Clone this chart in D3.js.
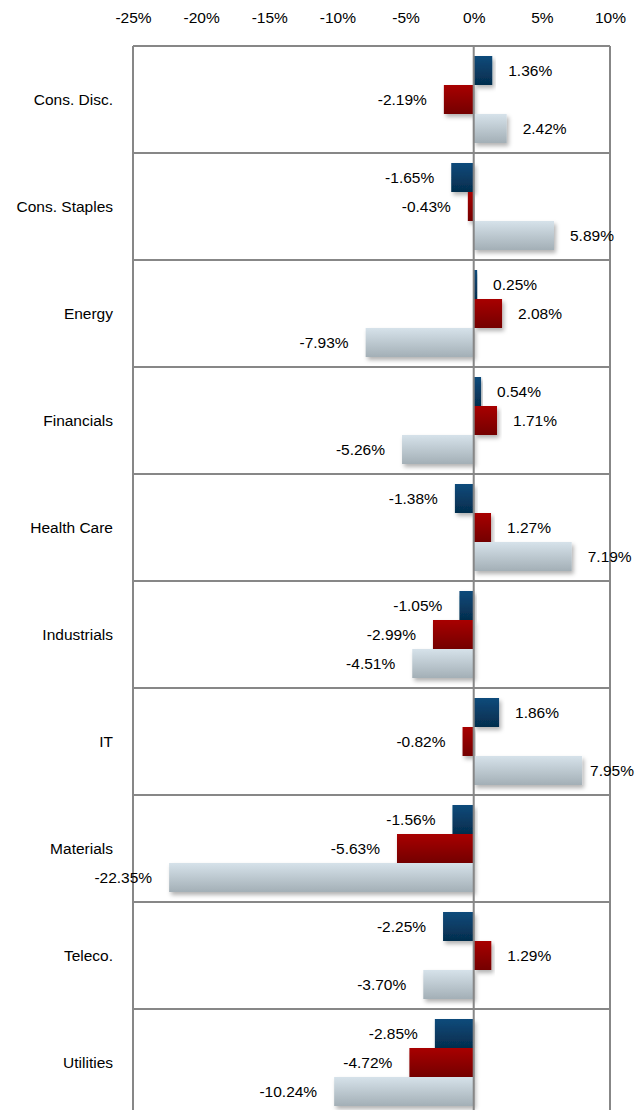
<!DOCTYPE html>
<html><head><meta charset="utf-8">
<script src="https://cdn.jsdelivr.net/npm/d3@7"></script>
<style>
html,body{margin:0;padding:0;background:#fff;}
svg{display:block;font-family:"Liberation Sans",Arial,sans-serif;}
</style></head>
<body><svg id="c" width="644" height="1110"></svg>
<script>
const categories = ["Cons. Disc.","Cons. Staples","Energy","Financials","Health Care","Industrials","IT","Materials","Teleco.","Utilities"];
const seriesNames = ["s1","s2","s3"];
const series1 = [1.36,-1.65,0.25,0.54,-1.38,-1.05,1.86,-1.56,-2.25,-2.85];
const series2 = [-2.19,-0.43,2.08,1.71,1.27,-2.99,-0.82,-5.63,1.29,-4.72];
const series3 = [2.42,5.89,-7.93,-5.26,7.19,-4.51,7.95,-22.35,-3.70,-10.24];
const tickValues = [-25,-20,-15,-10,-5,0,5,10];

const svg = d3.select("#c");
const plotL = 133, plotR = 610, plotT = 46, bandH = 107;
const plotB = plotT + bandH*categories.length;
const x = d3.scaleLinear().domain([-25,10]).range([plotL,plotR]);
const y0 = d3.scaleBand().domain(categories).range([plotT, plotB]).paddingInner(0).paddingOuter(0);
const y1 = d3.scaleBand().domain(seriesNames).range([0, y0.bandwidth()]).paddingInner(0).paddingOuter(0.345);

const defs = svg.append("defs");
const grads = [
  {id:"g1", c1:"#0c4b7b", c2:"#052d4d"},
  {id:"g2", c1:"#a80000", c2:"#740000"},
  {id:"g3", c1:"#d6e2ea", c2:"#a3afb6"}
];
grads.forEach(g=>{
  const lg = defs.append("linearGradient").attr("id",g.id).attr("x1",0).attr("y1",0).attr("x2",0).attr("y2",1);
  lg.append("stop").attr("offset","0%").attr("stop-color",g.c1);
  lg.append("stop").attr("offset","100%").attr("stop-color",g.c2);
});
const f = defs.append("filter").attr("id","sh").attr("x","-10%").attr("y","-20%").attr("width","130%").attr("height","160%");
f.append("feDropShadow").attr("dx",2).attr("dy",3).attr("stdDeviation",2).attr("flood-color","#000").attr("flood-opacity",0.3);

// top axis labels
const ax = d3.axisTop(x).tickValues(tickValues).tickSize(0).tickFormat(d=>d+"%");
const axg = svg.append("g").attr("transform","translate(0,18)").call(ax);
axg.select(".domain").remove();
axg.selectAll("text").attr("font-size","15.5px").attr("fill","#000").attr("font-family","Liberation Sans, Arial, sans-serif").attr("dy","0.35em").attr("y",0);

// frame & separators
const frame = svg.append("g").attr("stroke","#878787").attr("stroke-width",2).attr("fill","none");
categories.forEach((c,i)=>{
  frame.append("line").attr("x1",plotL).attr("x2",plotR).attr("y1",y0(c)).attr("y2",y0(c));
});
frame.append("line").attr("x1",plotL).attr("x2",plotL).attr("y1",plotT).attr("y2",plotB);
frame.append("line").attr("x1",plotR).attr("x2",plotR).attr("y1",plotT).attr("y2",plotB);

// category labels
svg.append("g").selectAll("text").data(categories).join("text")
  .attr("x",113).attr("y",d=>y0(d)+y0.bandwidth()/2).attr("dy","0.35em")
  .attr("text-anchor","end").attr("font-size","15.5px").attr("fill","#000").text(d=>d);

const all = [series1,series2,series3];
const data = [];
categories.forEach((c,i)=>{
  all.forEach((s,j)=>data.push({cat:c, s:seriesNames[j], v:s[i], j}));
});

// bars
svg.append("g").selectAll("rect").data(data).join("rect")
  .attr("x",d=>Math.min(x(0),x(d.v)))
  .attr("width",d=>Math.abs(x(d.v)-x(0)))
  .attr("y",d=>y0(d.cat)+y1(d.s))
  .attr("height",y1.bandwidth())
  .attr("fill",d=>`url(#g${d.j+1})`)
  .attr("filter","url(#sh)");

// zero line
svg.append("line").attr("x1",x(0)).attr("x2",x(0)).attr("y1",plotT).attr("y2",plotB)
  .attr("stroke","#878787").attr("stroke-width",2);

// value labels
const lbl = svg.append("g").selectAll("text").data(data).join("text")
  .attr("y",d=>y0(d.cat)+y1(d.s)+y1.bandwidth()/2).attr("dy","0.35em")
  .attr("font-size","15.5px").attr("fill","#000")
  .text(d=>d.v.toFixed(2)+"%");
lbl.each(function(d){
  const t = d3.select(this);
  const w = this.getComputedTextLength();
  if(d.v>=0){
    let xs = x(d.v)+16;
    if(xs + w > 634) xs = 634 - w;
    t.attr("x",xs).attr("text-anchor","start");
  } else {
    t.attr("x",x(d.v)-17).attr("text-anchor","end");
  }
});
</script></body></html>
